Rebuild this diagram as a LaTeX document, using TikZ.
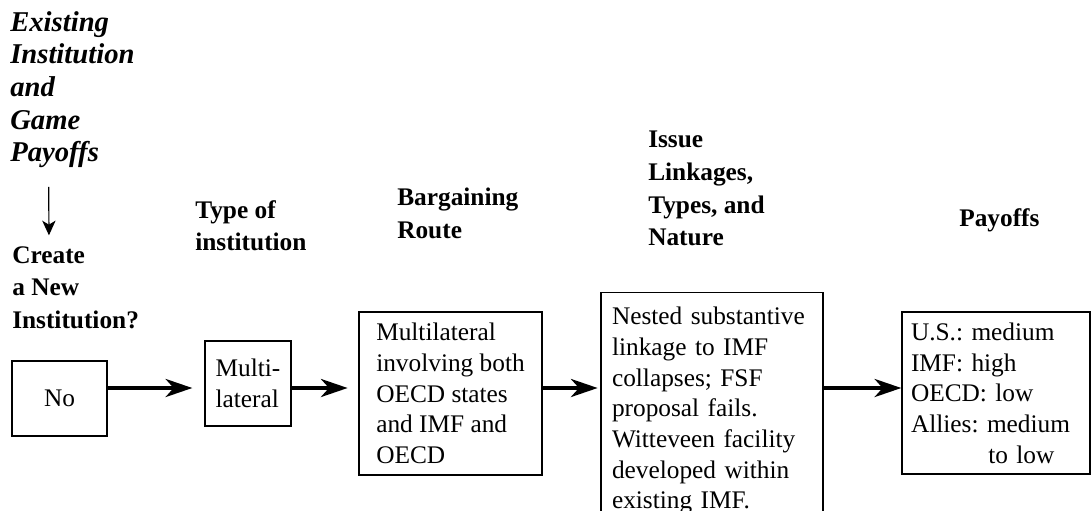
\documentclass[tikz,border=0pt]{standalone}
\usepackage{fontspec}
\setmainfont{Liberation Serif}
\usepackage{tikz}
\usetikzlibrary{positioning, arrows.meta, calc}
\frenchspacing
\newcommand{\boxfont}{\fontsize{19}{23}\selectfont}
\newcommand{\headfont}{\fontsize{19}{24.5}\selectfont\bfseries}
\tikzset{
  stagebox/.style={
    rectangle, draw=black, line width=1pt,
    inner sep=4pt, align=left, font=\boxfont
  },
  heading/.style={
    inner sep=0pt, anchor=north west, align=left, font=\headfont
  },
  flowarrow/.style={
    -{Stealth[length=20pt, width=13.5pt, inset=6pt]},
    line width=3pt
  },
  droparrow/.style={
    -{Stealth[length=11pt, width=10pt, inset=3pt]},
    line width=0.9pt
  }
}

\begin{document}
\begin{tikzpicture}[x=0.75pt, y=-0.75pt]
  \useasboundingbox (0,0) rectangle (1091,510);
  % column headings
  \node[heading, font=\fontsize{21.5}{24.5}\selectfont\bfseries\itshape] (existing) at (10,11) {Existing\\Institution\\and\\Game\\Payoffs};
  \node[heading] (create) at (12,246) {Create\\a New\\Institution?};
  \node[heading] (typehead) at (195,200) {Type of\\institution};
  \node[heading] (routehead) at (397,188) {Bargaining\\Route};
  \node[heading] (issuehead) at (648,131) {Issue\\Linkages,\\Types, and\\Nature};
  \node[heading] (payhead) at (959,208) {Payoffs};
  % stage boxes
  \node[stagebox, align=center, minimum width=71.25pt, minimum height=56.25pt] (no) at (59.5,398.5) {No};
  \node[stagebox, minimum width=64.5pt, minimum height=63.75pt] (multi) at (248,383.5) {Multi-\\lateral};
  \node[stagebox, minimum width=137.25pt, minimum height=122.25pt] (route) at (450.5,393.5)
    {Multilateral\\involving both\\OECD states\\and IMF and\\OECD};
  \node[stagebox, anchor=north, inner xsep=8.25pt, text width=150pt, inner ysep=11pt] (issue) at (712,292)
    {Nested substantive\\linkage to IMF\\collapses; FSF\\proposal fails.\\Witteveen facility\\developed within\\existing IMF.};
  \node[stagebox, inner xsep=6.75pt, text width=127.5pt, minimum height=121.5pt] (pay) at (996,393)
    {U.S.: medium\\IMF: high\\OECD: low\\Allies: medium\\\hspace*{3.05em}to low};
  % connectors
  \coordinate (row) at (0,388);
  \draw[droparrow, shorten <=14pt, shorten >=8pt] ([xshift=29pt]existing.south west) -- ([xshift=27.75pt]create.north west);
  \draw[flowarrow, shorten >=9pt] (no.east |- row) -- (multi.west |- row);
  \draw[flowarrow, shorten >=8pt] (multi.east |- row) -- (route.west |- row);
  \draw[flowarrow, shorten >=2pt] (route.east |- row) -- (issue.west |- row);
  \draw[flowarrow] (issue.east |- row) -- (pay.west |- row);
\end{tikzpicture}
\end{document}
